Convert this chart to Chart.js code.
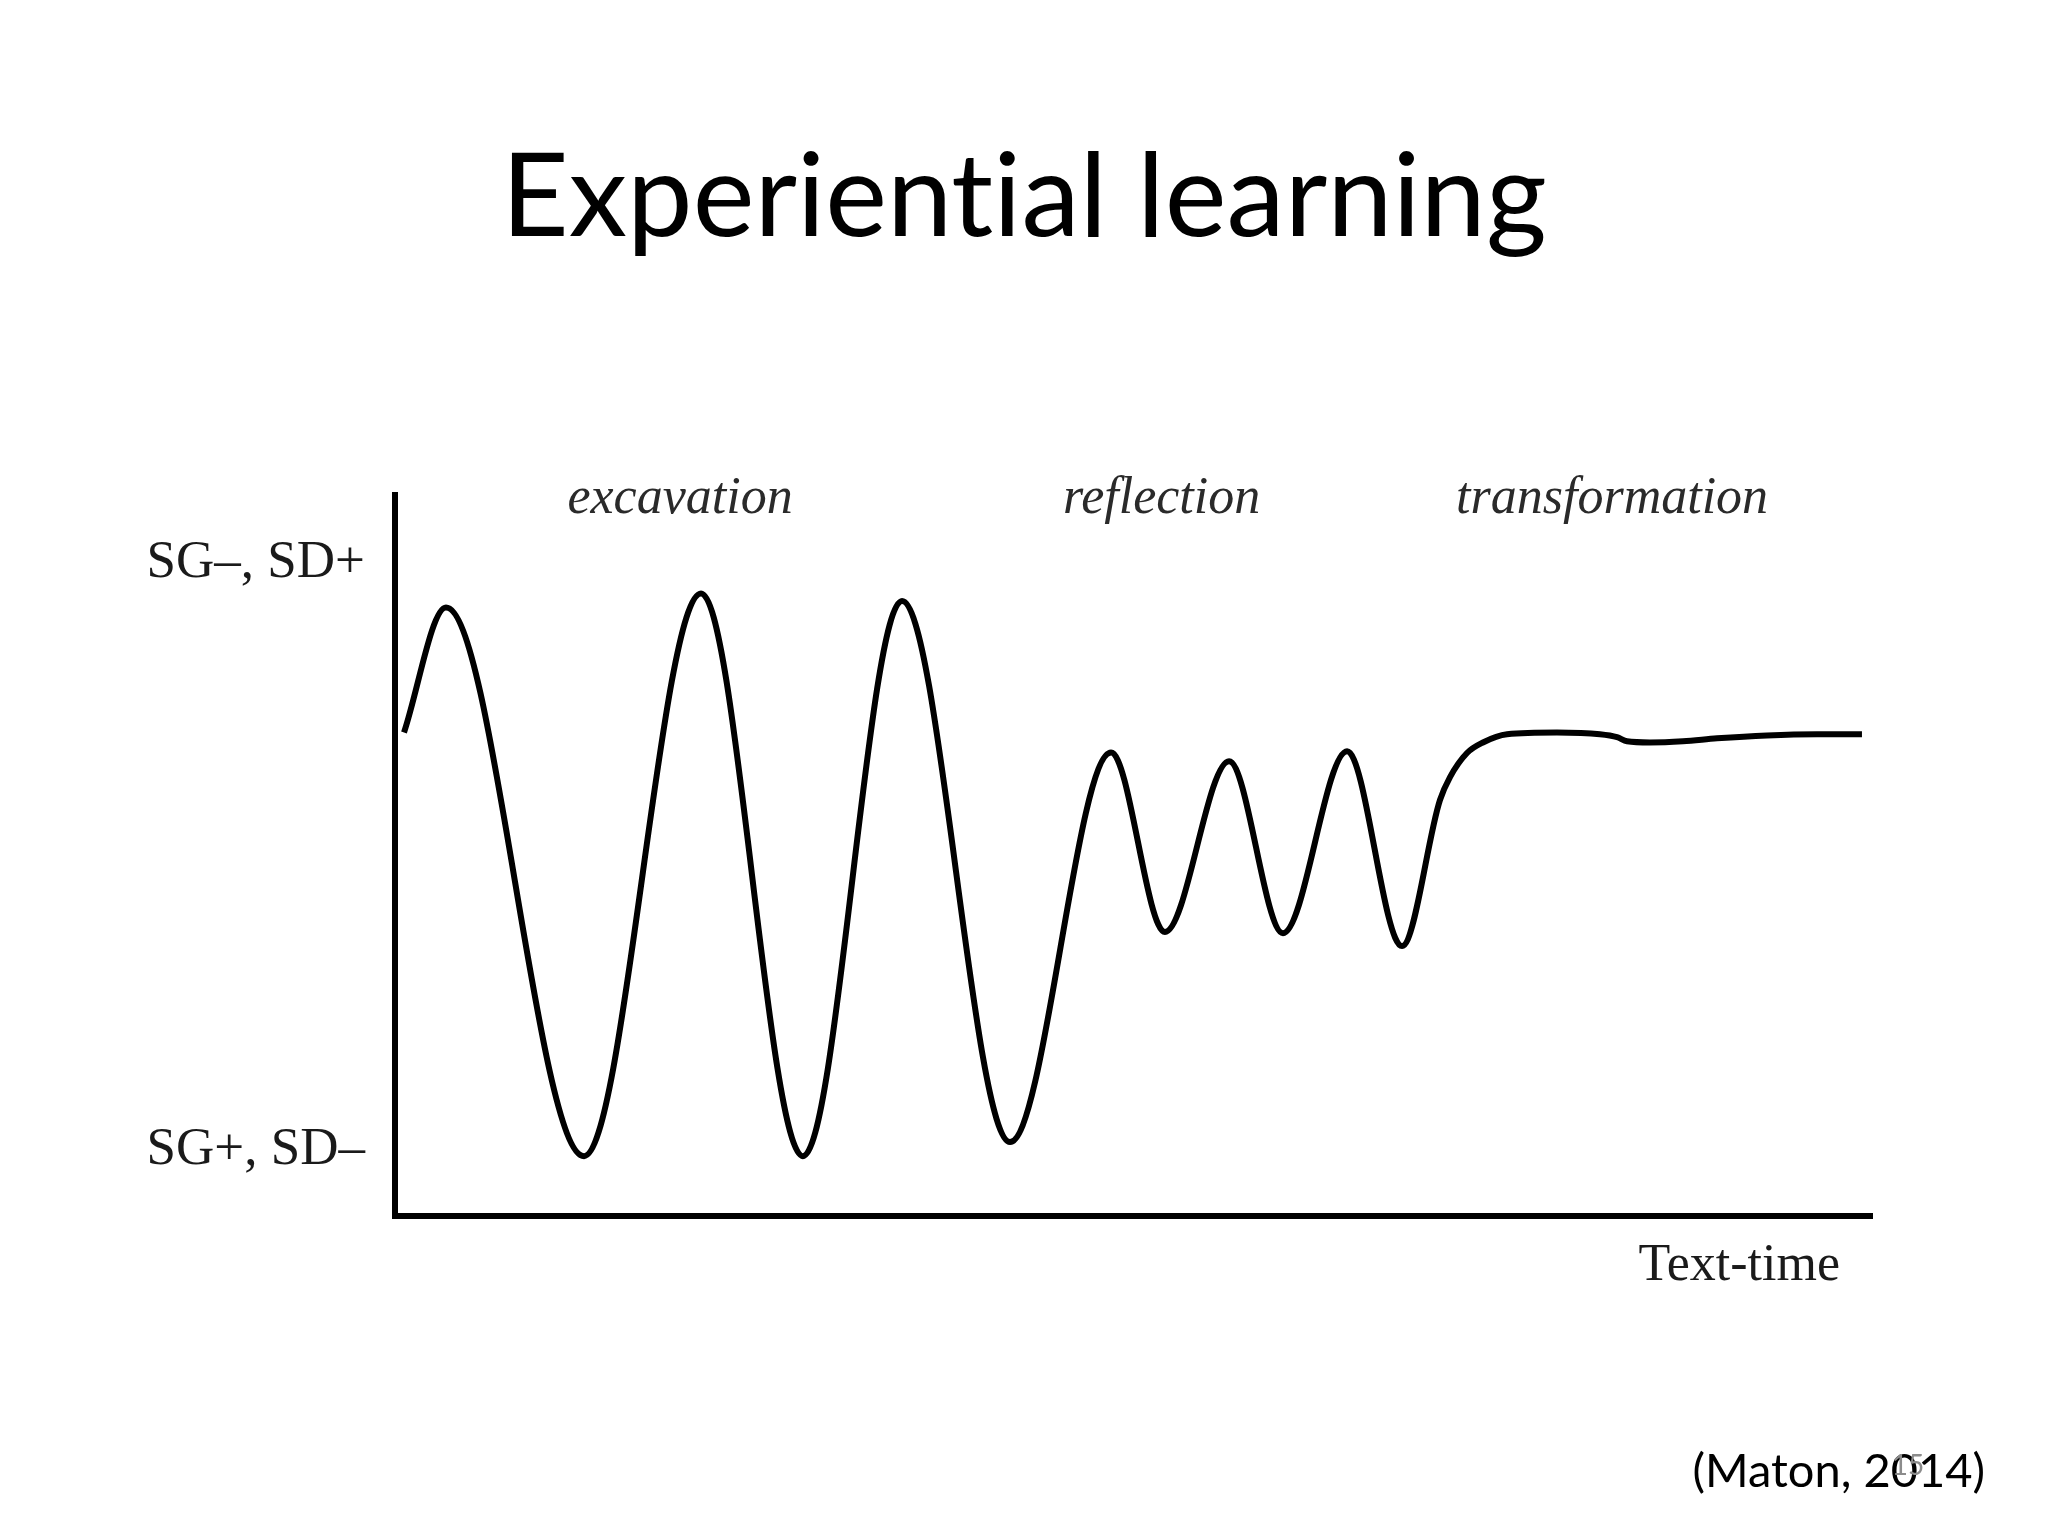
<!DOCTYPE html>
<html>
<head>
<meta charset="utf-8">
<title>Experiential learning</title>
<script src="https://cdn.jsdelivr.net/npm/chart.js@4.4.1/dist/chart.umd.min.js"></script>
<style>
  html, body { margin: 0; padding: 0; background: #fff; }
  canvas { display: block; }
</style>
</head>
<body>
<canvas id="chart" width="2048" height="1536"></canvas>
<script>
// semantic wave: 0 = SG+, SD–   10 = SG–, SD+
const timePoints = [0.61, 3.45, 12.8, 20.72, 27.62, 34.33, 41.64, 48.48, 52.13, 56.47, 60.12, 64.46, 68.18,
  70.75, 71.43, 72.58, 73.66, 75.29, 78.67, 81.58, 82.74, 83.41, 84.96, 87.2, 89.51, 92.89, 96.28, 99.32];
const levels = [7.12, 9.25, -0.1, 9.49, -0.1, 9.36, 0.14, 6.78, 3.72, 6.63, 3.7, 6.8, 3.48,
  5.97, 6.36, 6.77, 6.95, 7.09, 7.12, 7.09, 7.04, 6.97, 6.95, 6.97, 7.02, 7.07, 7.09, 7.09];

const yTickValues = [0, 10];
const yTickLabels = ['SG+, SD–', 'SG–, SD+'];

const phaseNames = ['excavation', 'reflection', 'transformation'];
const phaseAt = [19.3, 51.9, 82.4];

const axisTitle = 'Text-time';
const titleText = 'Experiential learning';
const source = '(Maton, 2014)';
const pageNo = '15';

const points = timePoints.map((t, i) => ({ x: t, y: levels[i] }));

// labels that are not ticks: phases, axis name, source
const textLabels = {
  id: 'textLabels',
  afterDraw(chart) {
    const { ctx, chartArea, scales: { x } } = chart;
    ctx.save();
    ctx.textBaseline = 'alphabetic';

    ctx.fillStyle = '#2a2a2a';
    ctx.font = 'italic 52px "Liberation Serif"';
    ctx.textAlign = 'center';
    phaseNames.forEach((name, i) => {
      ctx.fillText(name, x.getPixelForValue(phaseAt[i]), chartArea.top + 18);
    });

    ctx.fillStyle = '#1a1a1a';
    ctx.font = '52px "Liberation Serif"';
    ctx.textAlign = 'right';
    ctx.fillText(axisTitle, chartArea.right - 32, chartArea.bottom + 64);

    ctx.fillStyle = '#000';
    ctx.font = '47px Lato';
    ctx.fillText(source, 1985, 1487);

    ctx.fillStyle = '#8c8c8c';
    ctx.font = '28px Lato';
    ctx.textAlign = 'center';
    ctx.fillText(pageNo, 1908, 1475);
    ctx.restore();
  }
};

const whiteBg = {
  id: 'whiteBg',
  beforeDraw(chart) {
    const { ctx, width, height } = chart;
    ctx.save();
    ctx.fillStyle = '#fff';
    ctx.fillRect(0, 0, width, height);
    ctx.restore();
    // no "ti" ligature in the title
    ctx.textRendering = 'optimizeSpeed';
  }
};

new Chart(document.getElementById('chart'), {
  type: 'line',
  data: {
    datasets: [{
      data: points,
      borderColor: '#000',
      borderWidth: 6,
      pointRadius: 0,
      fill: false,
      cubicInterpolationMode: 'monotone'
    }]
  },
  options: {
    responsive: false,
    animation: false,
    layout: {
      padding: 0
    },
    scales: {
      x: {
        type: 'linear',
        min: 0,
        max: 100,
        grid: { display: false, drawTicks: false },
        border: { display: true, color: '#000', width: 6 },
        ticks: { display: false },
        afterFit: (s) => { s.height = 320; }
      },
      y: {
        type: 'linear',
        min: -1.12,
        max: 11.16,
        grid: { display: false, drawTicks: false },
        border: { display: true, color: '#000', width: 6 },
        afterBuildTicks: (s) => { s.ticks = yTickValues.map(v => ({ value: v })); },
        ticks: {
          callback: (v, i) => yTickLabels[i],
          font: { family: 'Liberation Serif', size: 53 },
          color: '#1a1a1a',
          padding: 30
        },
        afterFit: (s) => { s.width = 395; }
      },
      // empty right margin so the title stays centred on the page
      yRight: {
        position: 'right',
        grid: { display: false, drawTicks: false },
        border: { display: false },
        ticks: { display: false },
        afterFit: (s) => { s.width = 176; }
      }
    },
    plugins: {
      legend: { display: false },
      tooltip: { enabled: false },
      title: {
        display: true,
        text: titleText,
        color: '#000',
        font: { family: 'Lato', size: 117, weight: 'normal', lineHeight: 1.2 },
        padding: { top: 128, bottom: 227 }
      }
    }
  },
  plugins: [whiteBg, textLabels]
});
</script>
</body>
</html>
